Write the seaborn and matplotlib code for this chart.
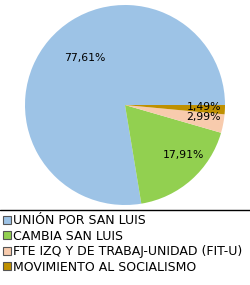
import matplotlib
matplotlib.use("Agg")
import matplotlib.pyplot as plt
import seaborn as sns
import numpy as np
from matplotlib.patches import Patch
from matplotlib.lines import Line2D

sns.set_theme(style="white")
plt.rcParams['font.family'] = ['DejaVu Sans']
plt.rcParams['text.color'] = 'black'

categories = ["UNIÓN POR SAN LUIS", "CAMBIA SAN LUIS",
              "FTE IZQ Y DE TRABAJ-UNIDAD (FIT-U)", "MOVIMIENTO AL SOCIALISMO"]
values = [77.61, 17.91, 2.99, 1.49]
colors = ["#9DC3E6", "#92D050", "#F8CBAD", "#BF9000"]
label_dist = [0.62, 0.77, 0.79, 0.79]
label_shift = [-9.3, 7.6, 2.0, 1.2]

fig = plt.figure(figsize=(2.5, 2.85), dpi=100)
ax = fig.add_axes([0.1, 1 - 205/285, 0.8, 200/285])

wedges, _ = ax.pie(values, colors=colors, startangle=0, counterclock=True,
                   wedgeprops=dict(linewidth=0))
ax.set_xlim(-1, 1)
ax.set_ylim(-1, 1)
ax.set_aspect("equal")

for w, v, d, s in zip(wedges, values, label_dist, label_shift):
    th = np.deg2rad((w.theta1 + w.theta2) / 2 + s)
    ax.text(d * np.cos(th), d * np.sin(th), f"{v:.2f}%".replace(".", ","),
            ha="center", va="center", fontsize=7.8, color="black")

fig.add_artist(Line2D([0, 1], [1 - 210/285, 1 - 210/285], color="black", lw=1))

handles = [Patch(facecolor=c, edgecolor="#555555", linewidth=0.8) for c in colors]
leg = fig.legend(handles, categories, loc="upper left", bbox_to_anchor=(0.008, 1 - 213/285),
                 frameon=False, fontsize=9, handlelength=0.6, handleheight=0.6,
                 handletextpad=0.2, labelspacing=0.2, borderaxespad=0, borderpad=0.1)
for t in leg.get_texts():
    t.set_color("black")

fig.savefig("out.png", dpi=100, facecolor="white")
